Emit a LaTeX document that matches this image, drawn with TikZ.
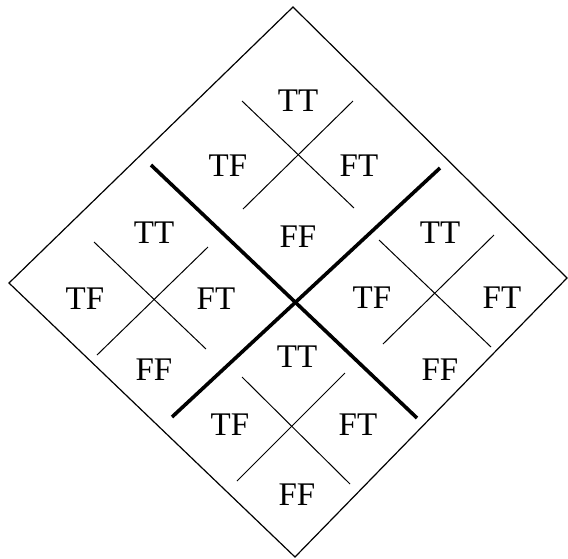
\documentclass[tikz,border=0pt]{standalone}
\usepackage{fontspec}
\setmainfont{Liberation Serif}
\tikzset{
    lbl/.style = {inner sep=0pt, font=\fontsize{33}{40}\selectfont},
    frame/.style = {draw, line width=1.2pt, line join=miter},
    split/.style = {draw, line width=1pt},
    cut/.style = {draw, line width=3.6pt}
}

\begin{document}
\begin{tikzpicture}[x=1pt,y=-1pt]
  \useasboundingbox (0,0) rectangle (568,558);

  % Outer diamond
  \coordinate (n) at (293,7);
  \coordinate (e) at (567,278);
  \coordinate (s) at (295,557);
  \coordinate (w) at (9,283);
  \draw[frame] (n) -- (e) -- (s) -- (w) -- cycle;

  % Thick cross
  \coordinate (x1) at (151,165);
  \coordinate (x2) at (417,418);
  \coordinate (y1) at (440,168);
  \coordinate (y2) at (172,417);
  \draw[cut] (x1) -- (x2);
  \draw[cut] (y1) -- (y2);

  % Small crosses
  \coordinate (ta1) at (242,101); \coordinate (ta2) at (354,208);
  \coordinate (tb1) at (243,209); \coordinate (tb2) at (353,101);
  \draw[split] (ta1) -- (ta2);
  \draw[split] (tb1) -- (tb2);

  \coordinate (la1) at (94,242);  \coordinate (la2) at (206,349);
  \coordinate (lb1) at (97,355);  \coordinate (lb2) at (208,247);
  \draw[split] (la1) -- (la2);
  \draw[split] (lb1) -- (lb2);

  \coordinate (ra1) at (379,240); \coordinate (ra2) at (491,347);
  \coordinate (rb1) at (383,344); \coordinate (rb2) at (494,235);
  \draw[split] (ra1) -- (ra2);
  \draw[split] (rb1) -- (rb2);

  \coordinate (ba1) at (242,377); \coordinate (ba2) at (350,484);
  \coordinate (bb1) at (345,373); \coordinate (bb2) at (237,481);
  \draw[split] (ba1) -- (ba2);
  \draw[split] (bb1) -- (bb2);

  % Draw the labels
  \node[lbl] (ttt) at (298,101) {TT};
  \node[lbl] (ttf) at (228,166) {TF};
  \node[lbl] (tft) at (359,166) {FT};
  \node[lbl] (tff) at (298,237) {FF};

  \node[lbl] (ltt) at (154,233) {TT};
  \node[lbl] (ltf) at (85,299) {TF};
  \node[lbl] (lft) at (216,299) {FT};
  \node[lbl] (lff) at (154,370) {FF};

  \node[lbl] (rtt) at (440,233) {TT};
  \node[lbl] (rtf) at (372,298) {TF};
  \node[lbl] (rft) at (502,298) {FT};
  \node[lbl] (rff) at (440,370) {FF};

  \node[lbl] (btt) at (297,357) {TT};
  \node[lbl] (btf) at (230,425) {TF};
  \node[lbl] (bft) at (358,425) {FT};
  \node[lbl] (bff) at (297,495) {FF};
\end{tikzpicture}
\end{document}
